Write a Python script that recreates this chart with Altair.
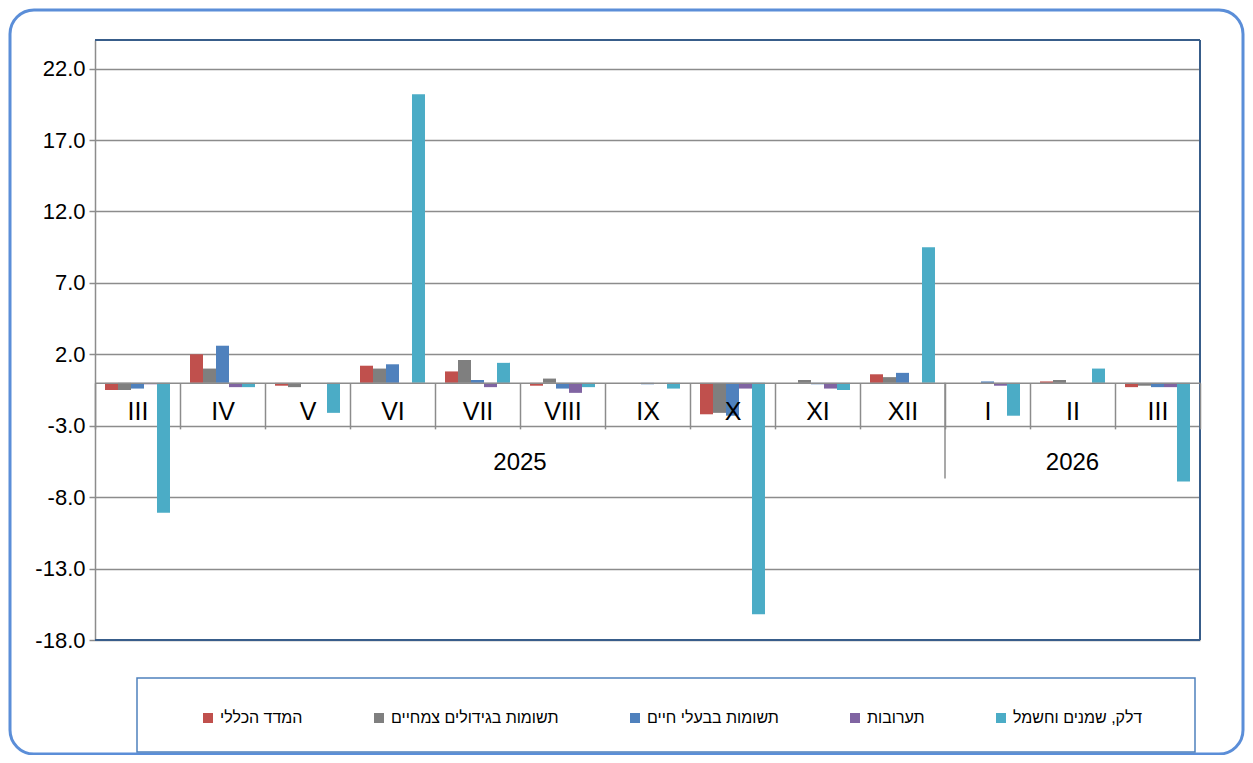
import altair as alt
import pandas as pd

# ---------------- data ----------------
months = ["III", "IV", "V", "VI", "VII", "VIII", "IX", "X", "XI", "XII", "I", "II", "III"]
years = ["2025"] * 10 + ["2026"] * 3
year_labels = ["2025", "2026"]

series = [
    "המדד הכללי",
    "תשומות בגידולים צמחיים",
    "תשומות בבעלי חיים",
    "תערובות",
    "דלק, שמנים וחשמל",
]
colors = ["#c0504d", "#7f7f7f", "#4f81bd", "#8064a2", "#4bacc6"]

general = [-0.5, 2.0, -0.2, 1.2, 0.8, -0.2, 0.0, -2.2, 0.0, 0.6, 0.0, 0.1, -0.3]
plants = [-0.5, 1.0, -0.3, 1.0, 1.6, 0.3, 0.0, -2.1, 0.2, 0.4, 0.0, 0.2, -0.2]
animals = [-0.4, 2.6, 0.0, 1.3, 0.2, -0.4, -0.1, -2.3, -0.1, 0.7, 0.1, 0.0, -0.3]
feed = [-0.1, -0.3, 0.0, 0.0, -0.3, -0.7, 0.0, -0.4, -0.4, 0.0, -0.2, 0.0, -0.3]
fuel = [-9.1, -0.3, -2.1, 20.2, 1.4, -0.3, -0.4, -16.2, -0.5, 9.5, -2.3, 1.0, -6.9]

y_ticks = [-18, -13, -8, -3, 2, 7, 12, 17, 22]
y_min, y_max = -18, 24

# ---------------- build table ----------------
keys = [f"{m} {y}" for m, y in zip(months, years)]
rows = []
for s, vals in zip(series, [general, plants, animals, feed, fuel]):
    for k, v in zip(keys, vals):
        rows.append({"key": k, "series": s, "value": v})
df = pd.DataFrame(rows)

W, H = 1105, 600
zero_px = H * (y_max - 0) / (y_max - y_min)
x_axis_offset = -(H - zero_px)

GRID = "#8c8c8c"
BORDER = "#385d8a"
FONT = "Liberation Sans"

x_scale = alt.Scale(domain=keys, paddingInner=0, paddingOuter=0)
y_scale = alt.Scale(domain=[y_min, y_max], nice=False, zero=False)

x_axis = alt.Axis(
    title=None,
    orient="bottom",
    offset=x_axis_offset,
    labelExpr="split(datum.label, ' ')[0]",
    tickBand="extent",
    tickSize=46,
    tickColor=GRID,
    tickWidth=1.5,
    domainColor=GRID,
    domainWidth=1.5,
    labelPadding=-29,
    labelFontSize=25,
    labelFont=FONT,
    labelColor="black",
    labelAngle=0,
    grid=False,
    zindex=1,
)
y_axis = alt.Axis(
    title=None,
    values=y_ticks,
    labelExpr="(datum.value < 0 ? '-' : '') + format(abs(datum.value), '.1f')",
    labelFontSize=22,
    labelFont=FONT,
    labelColor="black",
    labelPadding=4,
    tickColor=GRID,
    tickSize=6,
    tickWidth=1.5,
    domainColor=GRID,
    domainWidth=1.5,
    gridColor=GRID,
    gridWidth=1.5,
)

bars = alt.Chart(df).mark_bar().encode(
    x=alt.X("key:N", scale=x_scale, axis=x_axis),
    xOffset=alt.XOffset(
        "series:N",
        scale=alt.Scale(domain=series, paddingOuter=0.77, paddingInner=0),
    ),
    y=alt.Y("value:Q", scale=y_scale, axis=y_axis),
    color=alt.Color(
        "series:N",
        scale=alt.Scale(domain=series, range=colors),
        legend=alt.Legend(
            title=None,
            orient="none",
            legendX=105,
            legendY=670,
            direction="horizontal",
            symbolType="square",
            symbolSize=100,
            symbolStrokeWidth=0,
            labelFontSize=16,
            labelFont=FONT,
            labelColor="black",
            labelOffset=4,
            labelLimit=400,
            columnPadding=68,
            padding=0,
        ),
    ),
)

# separator between the two years
sep_df = pd.DataFrame({"key": [keys[10]]})
sep = alt.Chart(sep_df).mark_rule(color=GRID, strokeWidth=1.5).encode(
    x=alt.X("key:N", scale=x_scale, bandPosition=0, axis=x_axis),
    y=alt.YDatum(0, scale=y_scale, axis=y_axis),
    y2=alt.Y2Datum(-6.7),
)

yr1 = alt.Chart(pd.DataFrame({"key": [keys[5]], "label": [year_labels[0]]})).mark_text(
    fontSize=24, font=FONT, color="black", baseline="middle", align="center"
).encode(
    x=alt.X("key:N", scale=x_scale, bandPosition=0, axis=x_axis),
    y=alt.YDatum(-5.6, scale=y_scale, axis=y_axis),
    text="label:N",
)

yr2 = alt.Chart(pd.DataFrame({"key": [keys[11]], "label": [year_labels[1]]})).mark_text(
    fontSize=24, font=FONT, color="black", baseline="middle", align="center"
).encode(
    x=alt.X("key:N", scale=x_scale, bandPosition=0.5, axis=x_axis),
    y=alt.YDatum(-5.6, scale=y_scale, axis=y_axis),
    text="label:N",
)

deco = pd.DataFrame([{"k": 0}])
frame = alt.Chart(deco).mark_rect(
    fillOpacity=0, stroke="#5b8ed8", strokeWidth=3, cornerRadius=24
).encode(x=alt.value(-85), x2=alt.value(1148), y=alt.value(-30), y2=alt.value(714))

legend_box = alt.Chart(deco).mark_rect(
    fillOpacity=0, stroke="#4f81bd", strokeWidth=1.5
).encode(x=alt.value(42), x2=alt.value(1100), y=alt.value(638), y2=alt.value(712))

# plot-area border: top, right, bottom (left edge is the grey value axis)
border_top = alt.Chart(deco).mark_rule(color=BORDER, strokeWidth=2).encode(
    x=alt.value(0), x2=alt.value(W), y=alt.value(0)
)
border_bottom = alt.Chart(deco).mark_rule(color=BORDER, strokeWidth=2).encode(
    x=alt.value(0), x2=alt.value(W), y=alt.value(H)
)
border_right = alt.Chart(deco).mark_rule(color=BORDER, strokeWidth=2).encode(
    x=alt.value(W), y=alt.value(0), y2=alt.value(H)
)

chart = (
    alt.layer(
        bars, sep, yr1, yr2, frame, legend_box, border_top, border_bottom, border_right
    )
    .properties(
        width=W,
        height=H,
        autosize=alt.AutoSizeParams(type="none"),
        padding={"left": 87, "top": 32, "right": 45, "bottom": 115},
        background="white",
    )
    .configure_view(strokeWidth=0)
)

chart.save("out.html", embed_options={"renderer": "svg", "actions": False})
